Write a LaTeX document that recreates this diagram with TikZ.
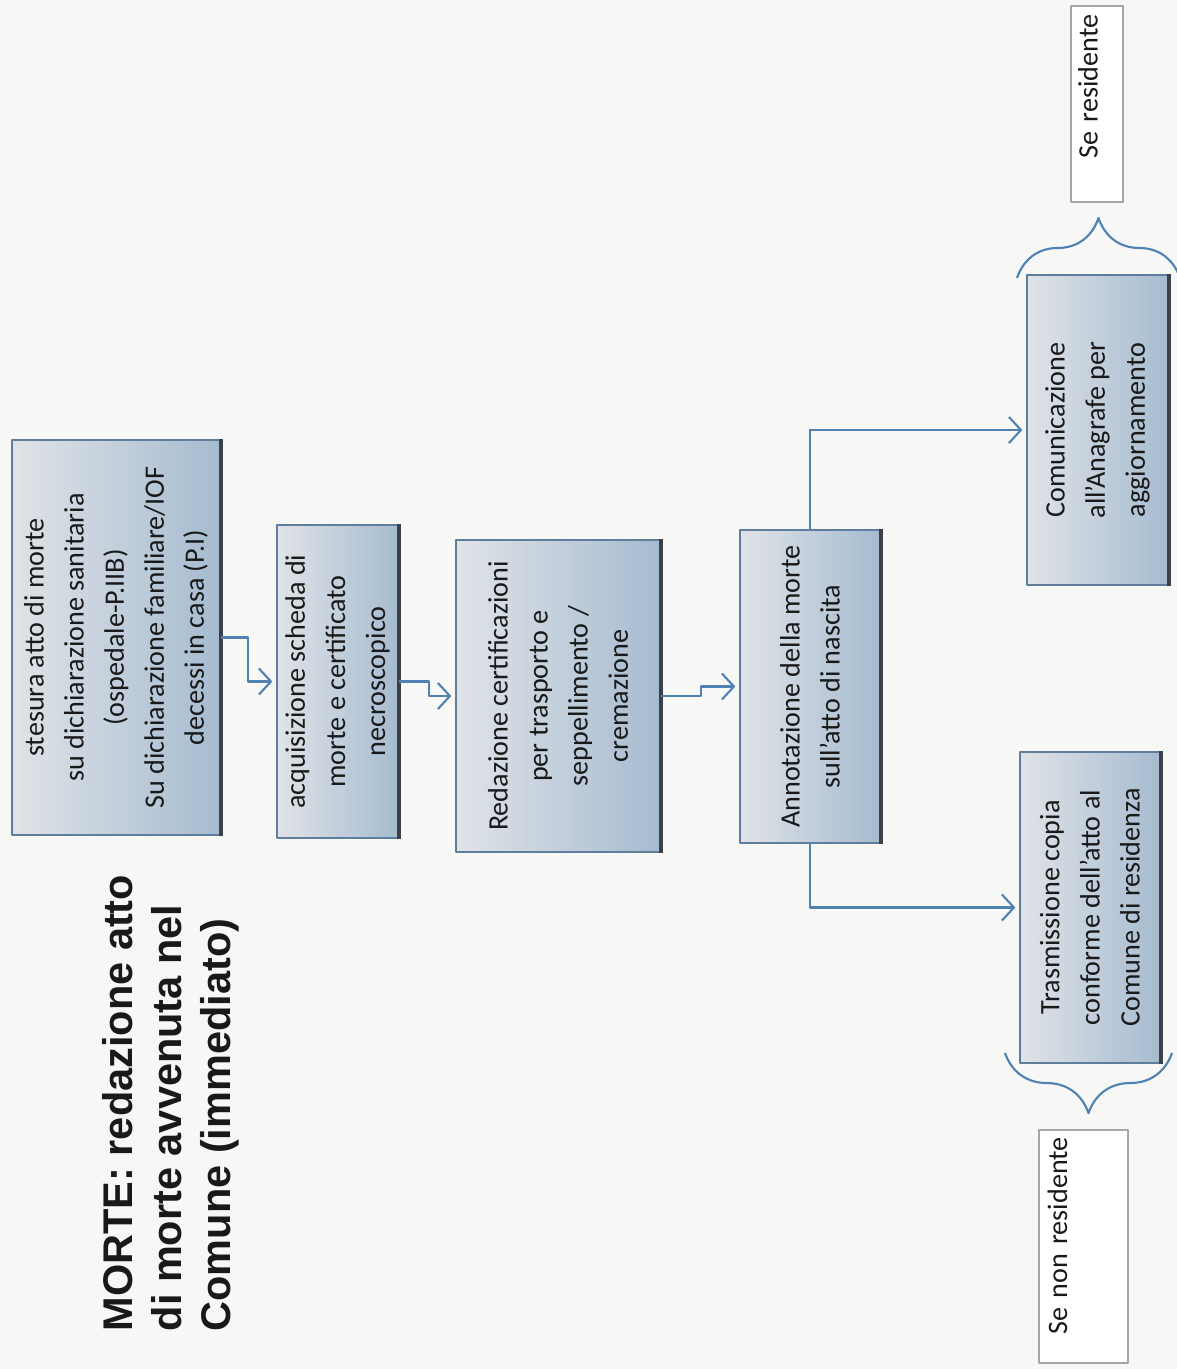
\documentclass[tikz,border=0pt]{standalone}
\usepackage{fontspec}
\setmainfont{Carlito}
\newfontfamily\titlefont{Liberation Sans}
\usetikzlibrary{arrows.meta, decorations.pathreplacing}

\definecolor{boxline}{HTML}{5F7E9C}
\definecolor{boxlight}{HTML}{E0E3E7}
\definecolor{boxdark}{HTML}{A6BBD0}
\definecolor{linkblue}{HTML}{4F82B3}
\definecolor{shadowgray}{HTML}{3B4048}
\definecolor{paper}{HTML}{F7F7F6}

\begin{document}
\begin{tikzpicture}[x=0.01cm, y=-0.01cm, line join=round,
  stepbox/.style={rotate=90, draw=boxline, line width=0.6pt, left color=boxlight, right color=boxdark,
    align=center, inner sep=0pt, text=black!90, font=\fontsize{8}{11.4}\selectfont},
  boxshadow/.style={draw=shadowgray, line width=1.2pt},
  link/.style={draw=linkblue, line width=0.6pt, shorten >=1pt, -{Straight Barb[length=1.2mm, width=2.6mm]}},
  curly/.style={draw=linkblue, line width=0.6pt, decorate, decoration={brace, amplitude=0.6cm}},
  tagbox/.style={rotate=90, draw=black!35, line width=0.4pt, fill=white, inner ysep=0pt,
    align=right, text=black!90, font=\fontsize{8}{10}\selectfont}]
  \useasboundingbox (0,0) rectangle (1177,1369);
  \fill[paper] (0,0) rectangle (1177,1369);

  % titolo
  \node[rotate=90, anchor=west, align=left, inner sep=0pt, text=black!90,
    font=\titlefont\bfseries\fontsize{11.8}{14}\selectfont] (title) at (171,1332)
    {MORTE: redazione atto\\di morte avvenuta nel\\Comune (immediato)};

  % passi
  \node[stepbox, minimum width=3.95cm, minimum height=2.08cm] (stesura) at (116,637.5)
    {stesura atto di morte\\su dichiarazione sanitaria\\(ospedale-P.IIB)\\Su dichiarazione familiare/IOF\\decessi in casa (P.I)};
  \node[stepbox, minimum width=3.13cm, minimum height=1.21cm] (scheda) at (337.5,681.5)
    {acquisizione scheda di\\morte e certificato\\necroscopico};
  \node[stepbox, minimum width=3.12cm, minimum height=2.04cm] (certif) at (558,696)
    {Redazione certificazioni\\per trasporto e\\seppellimento /\\cremazione};
  \node[stepbox, minimum width=3.13cm, minimum height=1.40cm] (annot) at (810,686.5)
    {Annotazione della morte\\sull'atto di nascita};
  \node[stepbox, minimum width=3.10cm, minimum height=1.41cm] (anagr) at (1097.5,430)
    {Comunicazione\\all'Anagrafe per\\aggiornamento};
  \node[stepbox, minimum width=3.11cm, minimum height=1.40cm] (trasm) at (1090,907.5)
    {Trasmissione copia\\conforme dell'atto al\\Comune di residenza};
  \foreach \b in {stesura, scheda, certif, annot, anagr, trasm}
    \draw[boxshadow] (\b.south west) -- (\b.south east);

  % collegamenti
  \draw[link] (stesura.south) -- ++(27,0) |- (scheda.north);
  \draw[link] (scheda.south) -- ++(30,0) |- (certif.north);
  \draw[link] (certif.south) -- ++(40,0) |- (annot.north);
  \draw[link] (annot.east) |- (anagr.north);
  \draw[link] (annot.west) |- (trasm.north);

  % condizioni
  \node[tagbox, minimum width=1.96cm, minimum height=0.52cm, inner xsep=2.5pt, text width=50.7pt,
    text height=7.6pt, text depth=7.2pt] (res) at (1097,104) {Se residente};
  \node[tagbox, minimum width=2.33cm, minimum height=0.89cm, inner xsep=2pt, text width=62.2pt,
    text height=8pt, text depth=17.3pt] (nonres) at (1083.5,1246.5) {Se non residente};
  \draw[curly] (1017,278) -- (1180,278);
  \draw[curly] (1172,1053) -- (1005,1053);
\end{tikzpicture}
\end{document}
